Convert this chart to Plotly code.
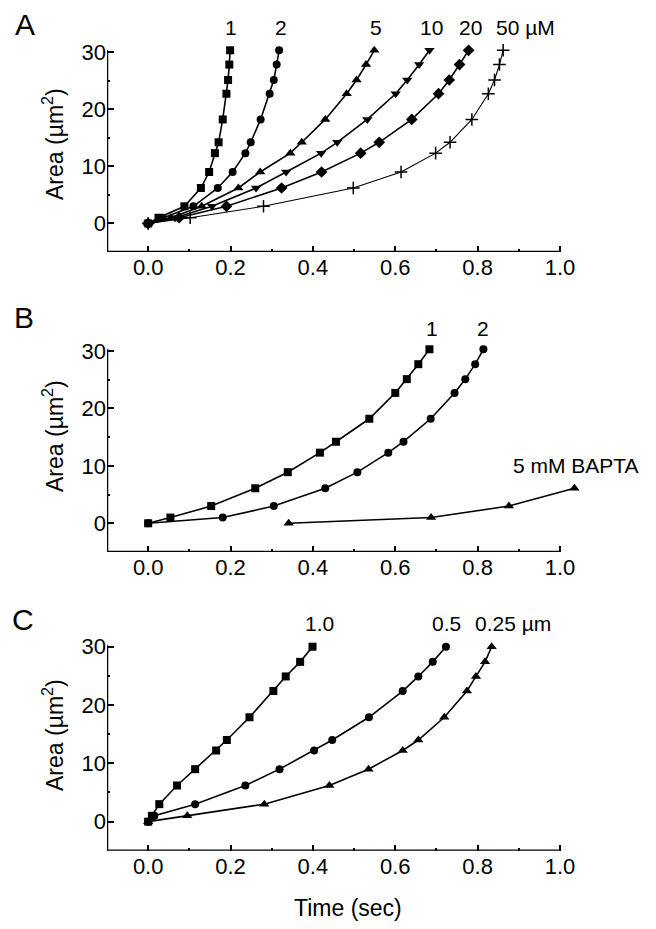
import plotly.graph_objects as go

W, H = 656, 929
FONT = "Liberation Sans, Arial, sans-serif"

# ---------------- data ----------------
# Panel A: Ca2+ concentration series (µM)
A_levels = [0, 1, 3, 6.2, 9, 12.3, 14.2, 18.2, 22.7, 25.1, 27.8, 30.3]
A1_x = [0, 0.025, 0.088, 0.128, 0.148, 0.162, 0.171, 0.181, 0.190, 0.194, 0.197, 0.199]
A2_x = [0, 0.035, 0.110, 0.169, 0.205, 0.236, 0.249, 0.273, 0.295, 0.305, 0.312, 0.318]
A5_x = [0, 0.055, 0.130, 0.219, 0.272, 0.345, 0.373, 0.430, 0.482, 0.506, 0.529, 0.549]
A10_x = [0, 0.065, 0.155, 0.262, 0.335, 0.420, 0.459, 0.532, 0.601, 0.629, 0.658, 0.683]
A20_x = [0, 0.075, 0.190, 0.324, 0.421, 0.516, 0.561, 0.640, 0.705, 0.731, 0.756, 0.778]
A50_x = [0, 0.102, 0.280, 0.498, 0.614, 0.698, 0.733, 0.786, 0.826, 0.841, 0.853, 0.862]
A_labels = ["1", "2", "5", "10", "20", "50 µM"]
A_label_x = [0.200, 0.323, 0.553, 0.689, 0.783, 0.915]
A_label_y = [34.3] * 6

# Panel B
B_levels = [0, 1, 3, 6.1, 8.9, 12.3, 14.2, 18.2, 22.7, 25.1, 27.7, 30.3]
B1_x = [0, 0.054, 0.153, 0.260, 0.339, 0.417, 0.456, 0.537, 0.600, 0.628, 0.656, 0.683]
B2_x = [0, 0.181, 0.305, 0.430, 0.508, 0.583, 0.620, 0.686, 0.744, 0.770, 0.794, 0.814]
BB_x = [0.341, 0.687, 0.876, 1.035]
BB_y = [0, 1, 3, 6.1]
B_labels = ["1", "2", "5 mM BAPTA"]
B_label_x = [0.689, 0.814, 1.040]
B_label_y = [34, 34, 10]

# Panel C
C_levels = [0, 1, 3, 6.2, 9, 12.2, 14.0, 17.9, 22.4, 24.9, 27.4, 30.0]
C1_x = [0, 0.009, 0.027, 0.070, 0.114, 0.165, 0.191, 0.246, 0.304, 0.334, 0.369, 0.399]
C05_x = [0, 0.015, 0.114, 0.236, 0.319, 0.403, 0.447, 0.536, 0.618, 0.656, 0.691, 0.723]
C025_x = [0, 0.095, 0.282, 0.440, 0.535, 0.618, 0.656, 0.719, 0.774, 0.796, 0.818, 0.834]
C_labels = ["1.0", "0.5", "0.25 µm"]
C_label_x = [0.417, 0.725, 0.887]
C_label_y = [34] * 3

x_ticks = [0.0, 0.2, 0.4, 0.6, 0.8, 1.0]
x_ticktext = ["0.0", "0.2", "0.4", "0.6", "0.8", "1.0"]
x_minor = [0.1, 0.3, 0.5, 0.7, 0.9]
y_ticks = [0, 10, 20, 30]
y_minor = [5, 15, 25]

# ---------------- layout geometry (pixels) ----------------
X_MIN, X_MAX, X_AX_END = -0.1, 1.05, 1.0
Y_MIN, Y_MAX, Y_AX_END = -5, 31.5, 30
px_x0, px_x1 = 107, 560          # pixels of x=-0.1 and x=1.0
panels = [(52, 252), (351, 552), (646.7, 850.8)]  # pixels of y=30 and y=-5

fig = go.Figure()

def add_series(x, y, symbol, ax, size=8, lw=1.6, mlw=0):
    fig.add_trace(go.Scatter(
        x=x, y=y, mode="lines+markers",
        xaxis="x" + ax, yaxis="y" + ax,
        line=dict(color="black", width=lw),
        marker=dict(symbol=symbol, size=size, color="black",
                    line=dict(color="black", width=mlw)),
        cliponaxis=False, showlegend=False, hoverinfo="skip"))

add_series(A1_x, A_levels, "square", "", 8)
add_series(A2_x, A_levels, "circle", "", 8)
add_series(A5_x, A_levels, "triangle-up", "", 9)
add_series(A10_x, A_levels, "triangle-down", "", 9)
add_series(A20_x, A_levels, "diamond", "", 9)
add_series(A50_x, A_levels, "cross-thin", "", 9, lw=1.1, mlw=1.5)
add_series(B1_x, B_levels, "square", "2", 8)
add_series(B2_x, B_levels, "circle", "2", 8)
add_series(BB_x, BB_y, "triangle-up", "2", 9)
add_series(C1_x, C_levels, "square", "3", 8)
add_series(C05_x, C_levels, "circle", "3", 8)
add_series(C025_x, C_levels, "triangle-up", "3", 9)

layout = dict(
    width=W, height=H,
    margin=dict(l=0, r=0, t=0, b=0),
    paper_bgcolor="white", plot_bgcolor="white",
    font=dict(family=FONT, color="black", size=21),
)

xscale = (px_x1 - px_x0) / (X_AX_END - X_MIN)
dom_x0 = px_x0 / W
dom_x1 = (px_x0 + (X_MAX - X_MIN) * xscale) / W

shapes = []
annotations = []
names = ["", "2", "3"]
for i, (ptop, pbot) in enumerate(panels):
    n = names[i]
    yscale = (pbot - ptop) / (Y_AX_END - Y_MIN)
    dom_top_px = pbot - (Y_MAX - Y_MIN) * yscale
    layout["xaxis" + n] = dict(
        domain=[dom_x0, dom_x1], range=[X_MIN, X_MAX],
        anchor="y" + n, showgrid=False, zeroline=False, showline=False,
        tickmode="array", tickvals=x_ticks, ticktext=x_ticktext,
        ticks="inside", ticklen=6, tickwidth=2, tickcolor="black",
        tickfont=dict(size=22, family=FONT, color="black"),
        minor=dict(tickmode="array", tickvals=x_minor,
                   ticks="inside", ticklen=3, tickwidth=2, tickcolor="black"),
        automargin=False, fixedrange=True,
    )
    layout["yaxis" + n] = dict(
        domain=[1 - pbot / H, 1 - dom_top_px / H], range=[Y_MIN, Y_MAX],
        anchor="x" + n, showgrid=False, zeroline=False, showline=False,
        tickmode="array", tickvals=y_ticks,
        ticks="inside", ticklen=7, tickwidth=2, tickcolor="black",
        tickfont=dict(size=22, family=FONT, color="black"),
        minor=dict(tickmode="array", tickvals=y_minor,
                   ticks="inside", ticklen=3, tickwidth=2, tickcolor="black"),
        automargin=False, fixedrange=True,
    )
    shapes.append(dict(type="line", xref="x" + n, yref="y" + n,
                       x0=X_MIN, x1=X_AX_END, y0=Y_MIN, y1=Y_MIN,
                       line=dict(color="black", width=2.5)))
    shapes.append(dict(type="line", xref="x" + n, yref="y" + n,
                       x0=X_MIN, x1=X_MIN, y0=Y_MIN, y1=Y_AX_END + 0.3,
                       line=dict(color="black", width=2.5)))

def add_labels(texts, xs, ys, n):
    for t, x, y in zip(texts, xs, ys):
        annotations.append(dict(text=t, x=x, y=(y - Y_MIN) / (Y_MAX - Y_MIN),
                                xref="x" + n, yref="y" + n + " domain",
                                xanchor="center", yanchor="middle",
                                showarrow=False, font=dict(size=21)))

add_labels(A_labels, A_label_x, A_label_y, "")
add_labels(B_labels, B_label_x, B_label_y, "2")
add_labels(C_labels, C_label_x, C_label_y, "3")

def paper_text(t, px, py, size, angle=0):
    annotations.append(dict(text=t, x=px / W, y=1 - py / H, xref="paper", yref="paper",
                            xanchor="center", yanchor="middle", textangle=angle,
                            showarrow=False, font=dict(size=size)))

for t, (lx, ly) in zip(["A", "B", "C"], [(25, 24), (24, 317), (23, 619)]):
    paper_text(t, lx, ly, 30)
for cy in [144, 436, 735]:
    paper_text("Area (µm<sup>2</sup>)", 53, cy, 23, -90)
paper_text("Time (sec)", 348, 908, 23)

layout["shapes"] = shapes
layout["annotations"] = annotations
fig.update_layout(**layout)
fig.write_html("out.html", config={"displayModeBar": False},
               post_script="document.body.style.margin='0px';document.body.style.overflow='hidden';")
